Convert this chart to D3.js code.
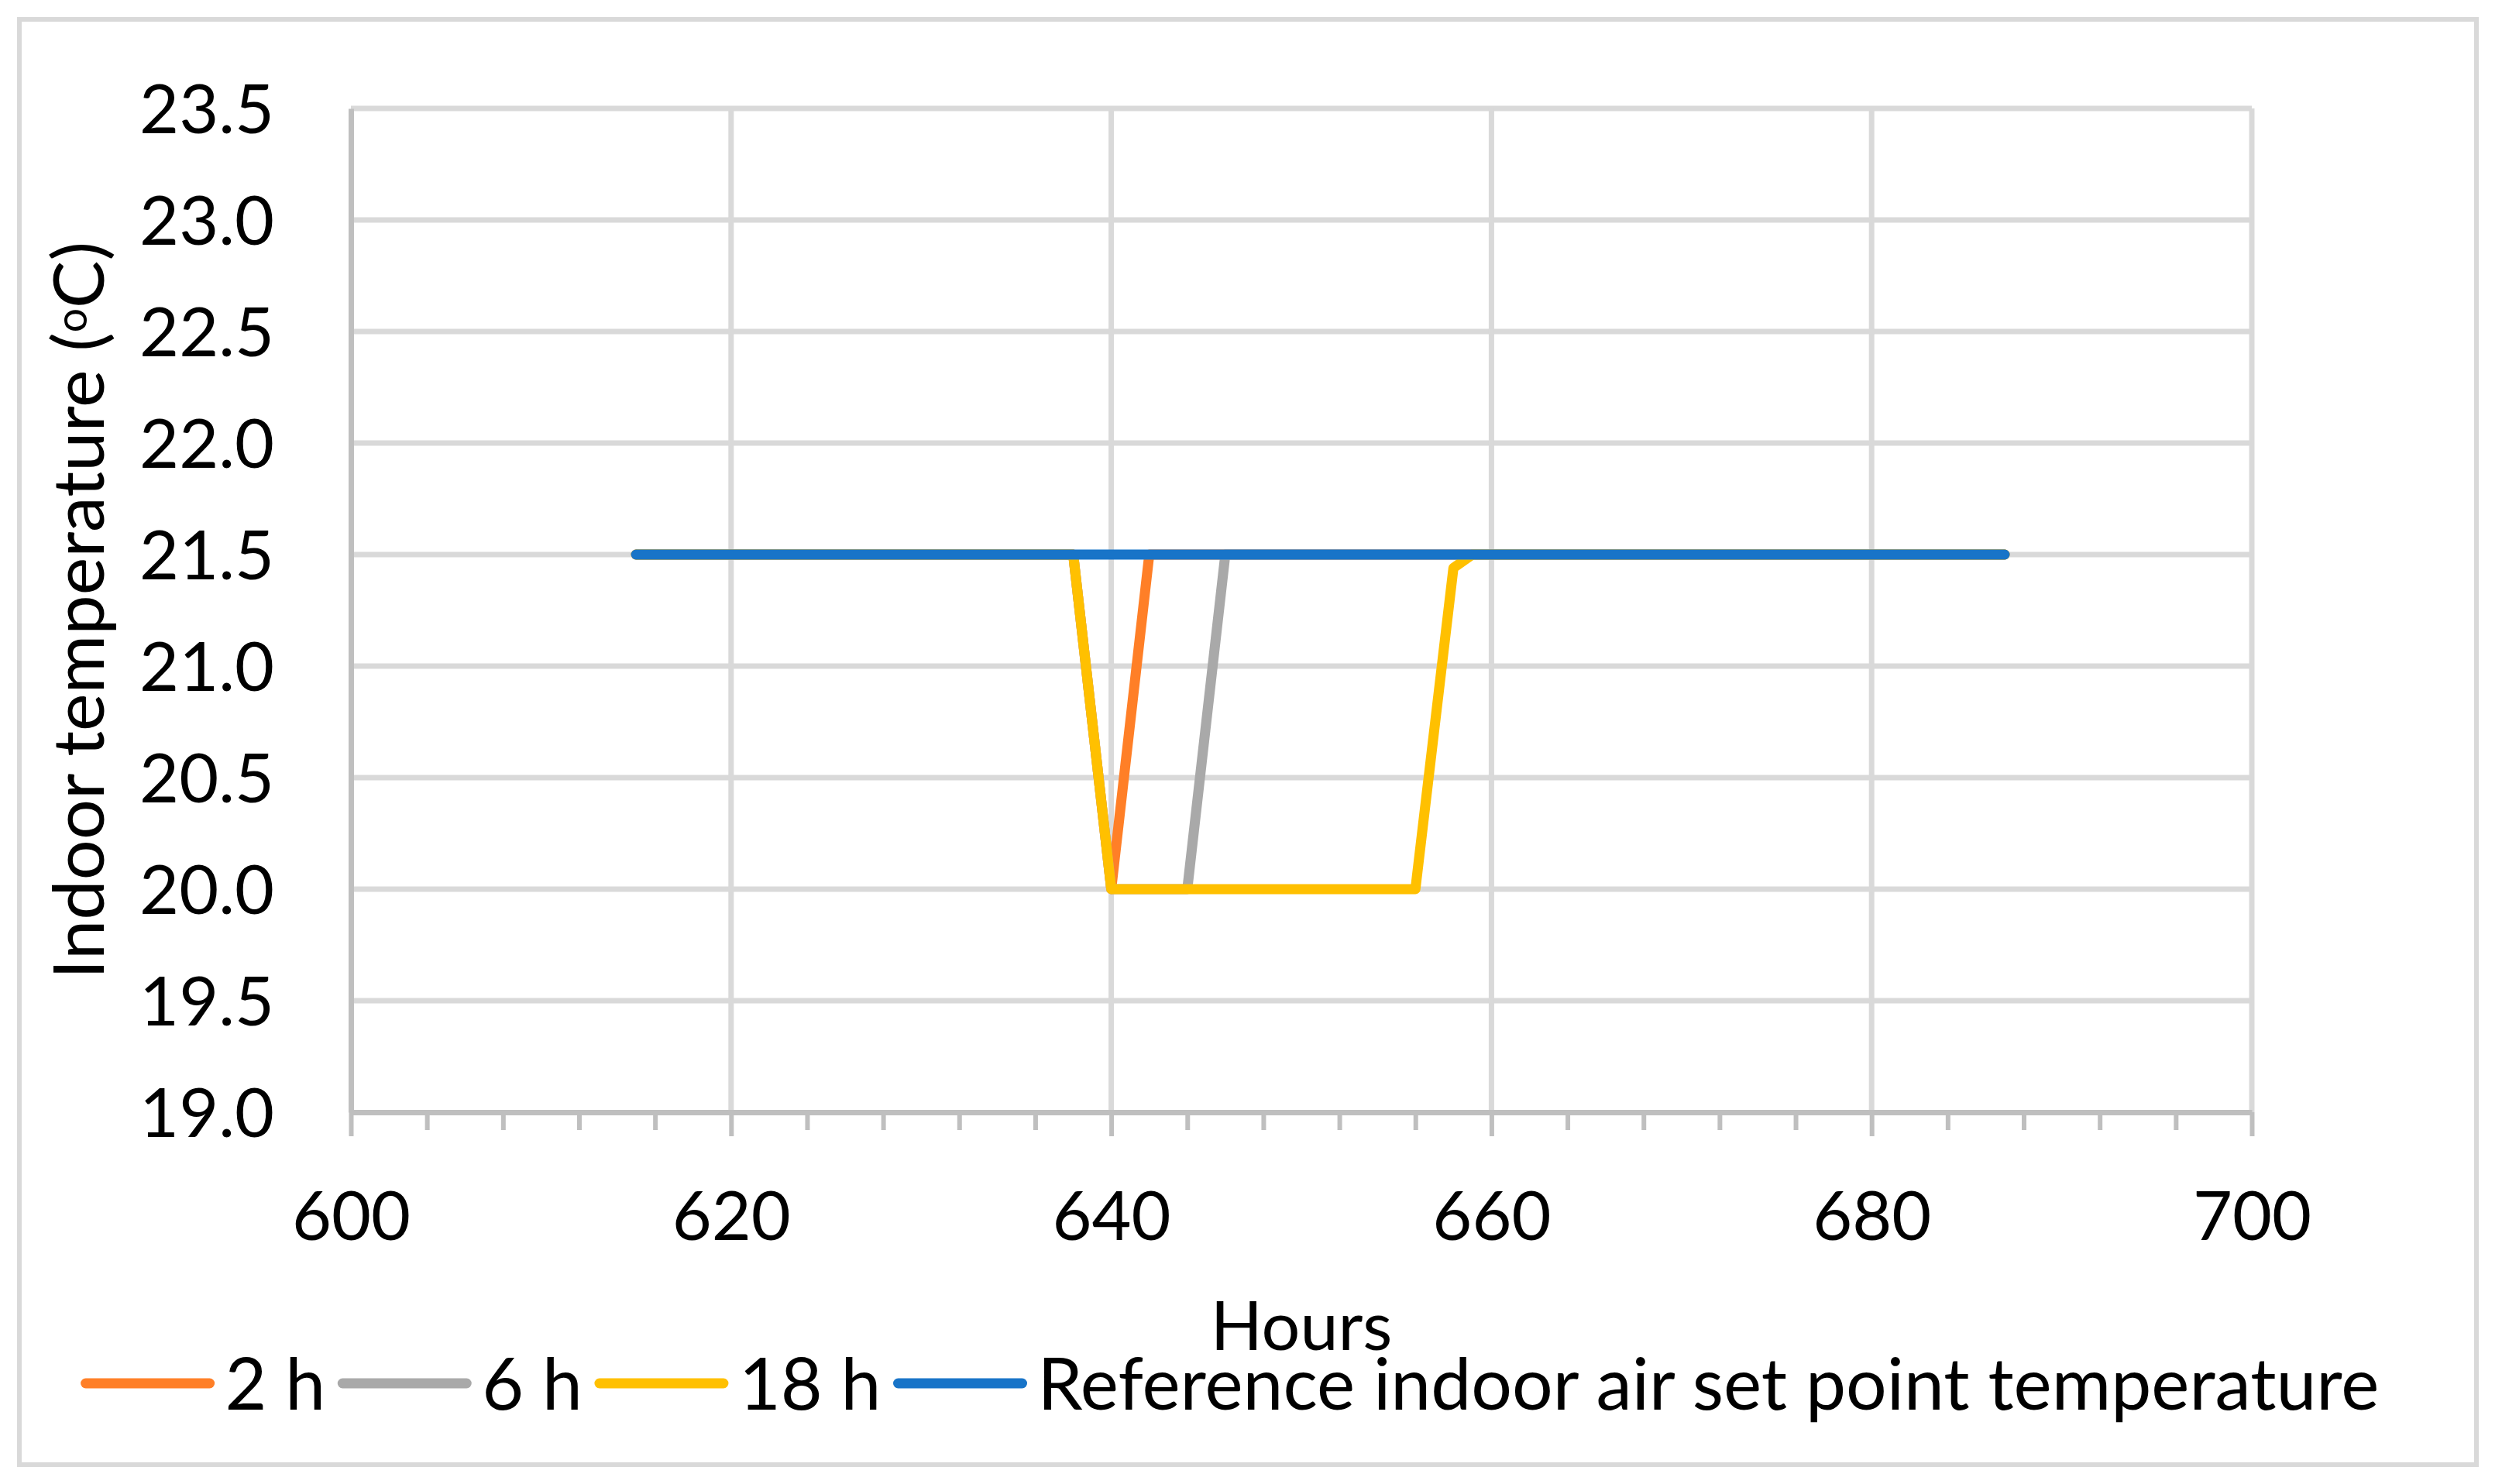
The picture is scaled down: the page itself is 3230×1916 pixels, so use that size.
<!DOCTYPE html>
<html>
<head>
<meta charset="utf-8">
<script src="https://cdn.jsdelivr.net/npm/d3@7"></script>
<style>
  body { margin: 0; background: #fff; }
  text { font-family: Lato, "Open Sans", sans-serif; fill: #000; }
</style>
</head>
<body>
<svg id="chart"></svg>
<script>
// values
const xTicks = [600, 620, 640, 660, 680, 700];
const xMinorTicks = [604, 608, 612, 616, 624, 628, 632, 636, 644, 648, 652, 656,
                     664, 668, 672, 676, 684, 688, 692, 696];
const yTicks = [19.0, 19.5, 20.0, 20.5, 21.0, 21.5, 22.0, 22.5, 23.0, 23.5];

const hours2h = [615, 638, 640, 642, 687];
const temp2h = [21.5, 21.5, 20.0, 21.5, 21.5];
const hours6h = [615, 638, 640, 644, 646, 687];
const temp6h = [21.5, 21.5, 20.0, 20.0, 21.5, 21.5];
const hours18h = [615, 638, 640, 656, 658, 659, 687];
const temp18h = [21.5, 21.5, 20.0, 20.0, 21.44, 21.5, 21.5];
const hoursRef = [615, 687];
const tempRef = [21.5, 21.5];

const seriesNames = ["2 h", "6 h", "18 h", "Reference indoor air set point temperature"];
const seriesColors = ["#ff7f27", "#a9a9a9", "#ffc000", "#1874c8"];

// set the dimensions and margins of the graph
const W = 3230, H = 1916;
const margin = {top: 140, right: 323, bottom: 480, left: 453},
    width = W - margin.left - margin.right,
    height = H - margin.top - margin.bottom;
const fontSize = 88, titleSize = 92, legendSize = 93;

const svg = d3.select("#chart")
    .attr("width", W)
    .attr("height", H);

// outer chart border
svg.append("rect")
    .attr("x", 25).attr("y", 25)
    .attr("width", 3172).attr("height", 1866)
    .attr("fill", "#fff")
    .attr("stroke", "#d9d9d9")
    .attr("stroke-width", 6);

const g = svg.append("g")
    .attr("transform", `translate(${margin.left}, ${margin.top})`);

const x = d3.scaleLinear().domain([600, 700]).range([0, width]);
const y = d3.scaleLinear().domain([19, 23.5]).range([height, 0]);

// gridlines
g.append("g")
  .selectAll("line")
  .data(yTicks.filter(d => d > 19))
  .enter().append("line")
    .attr("x1", 0).attr("x2", width)
    .attr("y1", d => y(d)).attr("y2", d => y(d))
    .attr("stroke", "#d9d9d9").attr("stroke-width", 7);
g.append("g")
  .selectAll("line")
  .data(xTicks.filter(d => d > 600))
  .enter().append("line")
    .attr("x1", d => x(d)).attr("x2", d => x(d))
    .attr("y1", 0).attr("y2", height)
    .attr("stroke", "#d9d9d9").attr("stroke-width", 7);

// X axis: minor ticks, then major ticks with labels
const xMinor = g.append("g")
    .attr("transform", `translate(0, ${height})`)
    .call(d3.axisBottom(x).tickValues(xMinorTicks).tickSize(23).tickFormat(""));
xMinor.select(".domain").remove();
xMinor.selectAll("line").attr("stroke", "#bfbfbf").attr("stroke-width", 6);

const xAxis = g.append("g")
    .attr("transform", `translate(0, ${height})`)
    .call(d3.axisBottom(x).tickValues(xTicks).tickSize(31).tickSizeOuter(0));
xAxis.select(".domain").attr("stroke", "#bfbfbf").attr("stroke-width", 7);
xAxis.selectAll("line").attr("stroke", "#bfbfbf").attr("stroke-width", 6);
xAxis.selectAll("text")
    .attr("y", 165).attr("dy", 0)
    .style("font-size", fontSize + "px")
    .style("font-family", "Lato, 'Open Sans', sans-serif")
    .attr("fill", "#000");

// Y axis
const yAxis = g.append("g")
    .call(d3.axisLeft(y).tickValues(yTicks).tickSize(0).tickPadding(99)
        .tickFormat(d3.format(".1f")));
yAxis.select(".domain").attr("stroke", "#bfbfbf").attr("stroke-width", 7);
yAxis.selectAll("text")
    .attr("dy", "0.36em")
    .style("font-size", fontSize + "px")
    .style("font-family", "Lato, 'Open Sans', sans-serif")
    .attr("fill", "#000");

// axis titles
g.append("text")
    .attr("x", width / 2)
    .attr("y", 1743 - margin.top)
    .attr("text-anchor", "middle")
    .style("font-size", fontSize + "px")
    .text("Hours");

const yTitle = svg.append("text")
    .attr("transform", `translate(134, ${margin.top + height / 2}) rotate(-90)`)
    .attr("text-anchor", "middle")
    .style("font-size", titleSize + "px");
yTitle.append("tspan").text("Indoor temperature (");
yTitle.append("tspan").attr("dy", "-0.4em").style("font-size", "0.6em").text("o");
yTitle.append("tspan").attr("dy", "0.24em").text("C)");

// lines
const series = [
  {hours: hours2h, temps: temp2h},
  {hours: hours6h, temps: temp6h},
  {hours: hours18h, temps: temp18h},
  {hours: hoursRef, temps: tempRef}
];
const line = d3.line()
    .x(d => x(d[0]))
    .y(d => y(d[1]));

series.forEach((s, i) => {
  g.append("path")
    .datum(d3.zip(s.hours, s.temps))
    .attr("fill", "none")
    .attr("stroke", seriesColors[i])
    .attr("stroke-width", 13)
    .attr("stroke-linejoin", "round")
    .attr("stroke-linecap", "round")
    .attr("d", line);
});

// legend
const legend = svg.append("g");
const lineLen = 160, gapText = 20, gapItem = 22, legendY = 1786;
let cursor = 0;
seriesNames.forEach((name, i) => {
  const item = legend.append("g");
  item.append("line")
    .attr("x1", cursor).attr("x2", cursor + lineLen)
    .attr("y1", legendY).attr("y2", legendY)
    .attr("stroke", seriesColors[i])
    .attr("stroke-width", 13)
    .attr("stroke-linecap", "round");
  const t = item.append("text")
    .attr("x", cursor + lineLen + gapText)
    .attr("y", legendY + 34)
    .style("font-size", legendSize + "px")
    .text(name);
  cursor += lineLen + gapText + t.node().getComputedTextLength() + gapItem;
});
cursor -= gapItem;
legend.attr("transform", `translate(${1591 - cursor / 2}, 0)`);
</script>
</body>
</html>
